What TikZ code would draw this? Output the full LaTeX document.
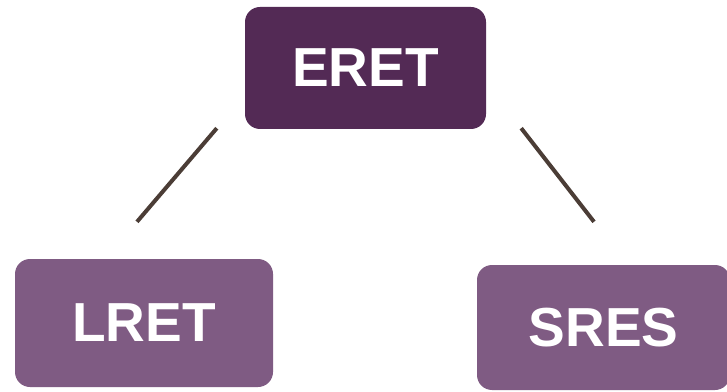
\documentclass[tikz,border=0pt]{standalone}
\usepackage{fontspec}
\setmainfont{Liberation Sans}
\definecolor{eretpurple}{HTML}{532A55}
\definecolor{childpurple}{HTML}{7F5B83}
\definecolor{linkbrown}{HTML}{4B3D36}
\tikzset{
    box/.style={rounded corners=15pt, inner sep=0pt, text=white,
        font=\bfseries\fontsize{55}{60}\selectfont},
    link/.style={draw=linkbrown, line width=4pt}
}

\begin{document}
\begin{tikzpicture}[x=1pt, y=1pt]
        \useasboundingbox (0,0) rectangle (727,391);
        \node[box, fill=eretpurple, minimum width=241pt, minimum height=122pt] (ERET) at (365.5, 323) {ERET};
        \node[box, fill=childpurple, minimum width=258pt, minimum height=128pt] (LRET) at (144, 68) {LRET};
        \node[box, fill=childpurple, minimum width=253pt, minimum height=125pt] (SRES) at (603.5, 63.5) {SRES};
        
        \draw [link] ([xshift=-28pt, yshift=1pt]ERET.south west) -- ([xshift=-7pt, yshift=37pt]LRET.north);
        \draw [link] ([xshift=35pt, yshift=1pt]ERET.south east) -- ([xshift=-9.5pt, yshift=43pt]SRES.north);
    \end{tikzpicture}
\end{document}
